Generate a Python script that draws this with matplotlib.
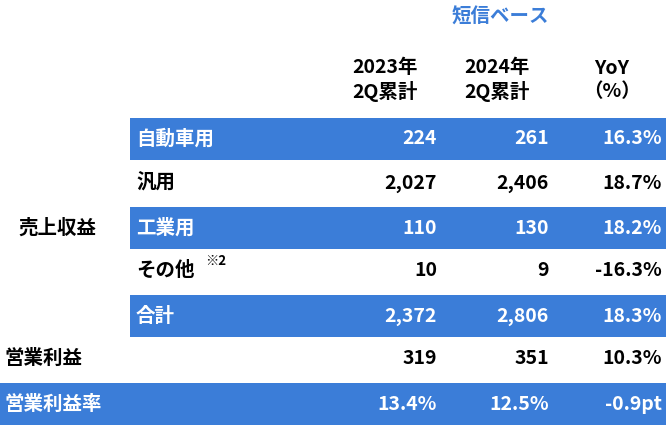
import matplotlib.pyplot as plt
from matplotlib.patches import Rectangle

plt.rcParams["font.family"] = "Noto Sans CJK JP"

title = "短信ベース"
col_headers = ["2023年\n2Q累計", "2024年\n2Q累計", "YoY\n（%）"]
row_labels = ["自動車用", "汎用", "工業用", "その他", "合計", "営業利益", "営業利益率"]
val_2023 = ["224", "2,027", "110", "10", "2,372", "319", "13.4%"]
val_2024 = ["261", "2,406", "130", "9", "2,806", "351", "12.5%"]
yoy = ["16.3%", "18.7%", "18.2%", "-16.3%", "18.3%", "10.3%", "-0.9pt"]
shaded = [True, False, True, False, True, False, True]
group_label = "売上収益"

W, H = 670, 428
blue = "#3B7DD8"
fs = 14
fig = plt.figure(figsize=(W / 100, H / 100), dpi=100)
ax = fig.add_axes([0, 0, 1, 1])
ax.set_xlim(0, W)
ax.set_ylim(H, 0)
ax.axis("off")

ax.text(500, 17, title, color=blue, fontsize=fs, fontweight="bold", ha="center", va="center")
for x, h in zip([385, 497, 612], col_headers):
    ax.text(x, 80, h, fontsize=fs, fontweight="bold", ha="center", va="center", linespacing=1.25)

row_y = [139, 183, 228, 270, 316, 358, 404]
for i, (y, lab) in enumerate(zip(row_y, row_labels)):
    full = i == len(row_labels) - 1
    x0 = 0 if full else 130
    tc = "black"
    if shaded[i]:
        ax.add_patch(Rectangle((x0, y - 21), 666 - x0, 42, color=blue, lw=0))
        tc = "white"
    lx = 4 if (full or lab == "営業利益") else 136
    ax.text(lx, y, lab, color=tc, fontsize=fs, fontweight="bold", ha="left", va="center")
    if lab == "その他":
        ax.text(205, y - 9, "※2", color=tc, fontsize=9.5, fontweight="bold", ha="left", va="center")
    for x, v in zip([437, 549, 662], [val_2023[i], val_2024[i], yoy[i]]):
        ax.text(x, y, v, color=tc, fontsize=fs, fontweight="bold", ha="right", va="center")

ax.text(18, 228, group_label, fontsize=fs, fontweight="bold", ha="left", va="center")

fig.savefig("out.png", dpi=100)
